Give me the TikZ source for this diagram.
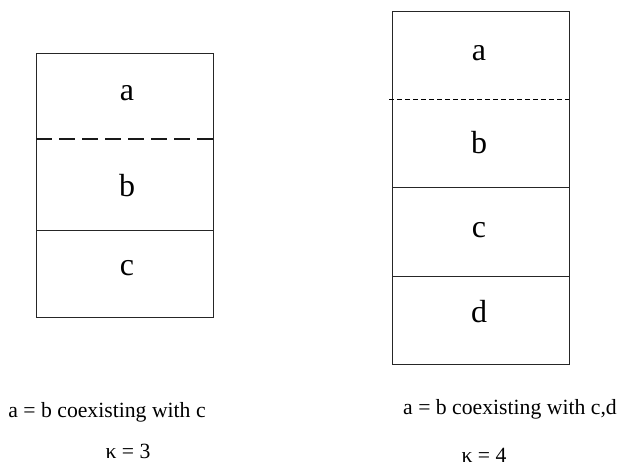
\documentclass[tikz,border=0pt]{standalone}
\usepackage{fontspec}
\setmainfont{Liberation Serif}
\begin{document}
\begin{tikzpicture}[x=1pt,y=-1pt,
  boxline/.style={line width=1pt,black!85},
  celltext/.style={font=\fontsize{32}{34}\selectfont,inner sep=0pt},
  captext/.style={font=\fontsize{21.7}{24}\selectfont,inner sep=0pt},
  longdash/.style={line width=1.4pt,black!90,dash pattern=on 16pt off 7pt},
  shortdash/.style={line width=0.8pt,black,dash pattern=on 5pt off 3pt}]
\useasboundingbox (0,0) rectangle (621,467);
% left box
\draw[boxline] (36,53) rectangle (213,317);
\draw[longdash] (36,139) -- (213,139);
\draw[boxline] (36,230) -- (213,230);
\node[celltext] (la) at (127,93) {a};
\node[celltext] (lb) at (127,186) {b};
\node[celltext] (lc) at (127,268) {c};
% right box
\draw[boxline] (392,11) rectangle (569,364);
\draw[shortdash] (389,99) -- (569,99);
\draw[boxline] (392,187) -- (569,187);
\draw[boxline] (392,276) -- (569,276);
\node[celltext] (ra) at (479,53) {a};
\node[celltext] (rb) at (479,143) {b};
\node[celltext] (rc) at (479,230) {c};
\node[celltext] (rd) at (479,312) {d};
% captions
\node[captext] (lcap) at (107,412) {a = b coexisting with c};
\node[captext] (lk) at (128,451) {κ = 3};
\node[captext] (rcap) at (510,409) {a = b coexisting with c,d};
\node[captext] (rk) at (484,455) {κ = 4};
\end{tikzpicture}
\end{document}
